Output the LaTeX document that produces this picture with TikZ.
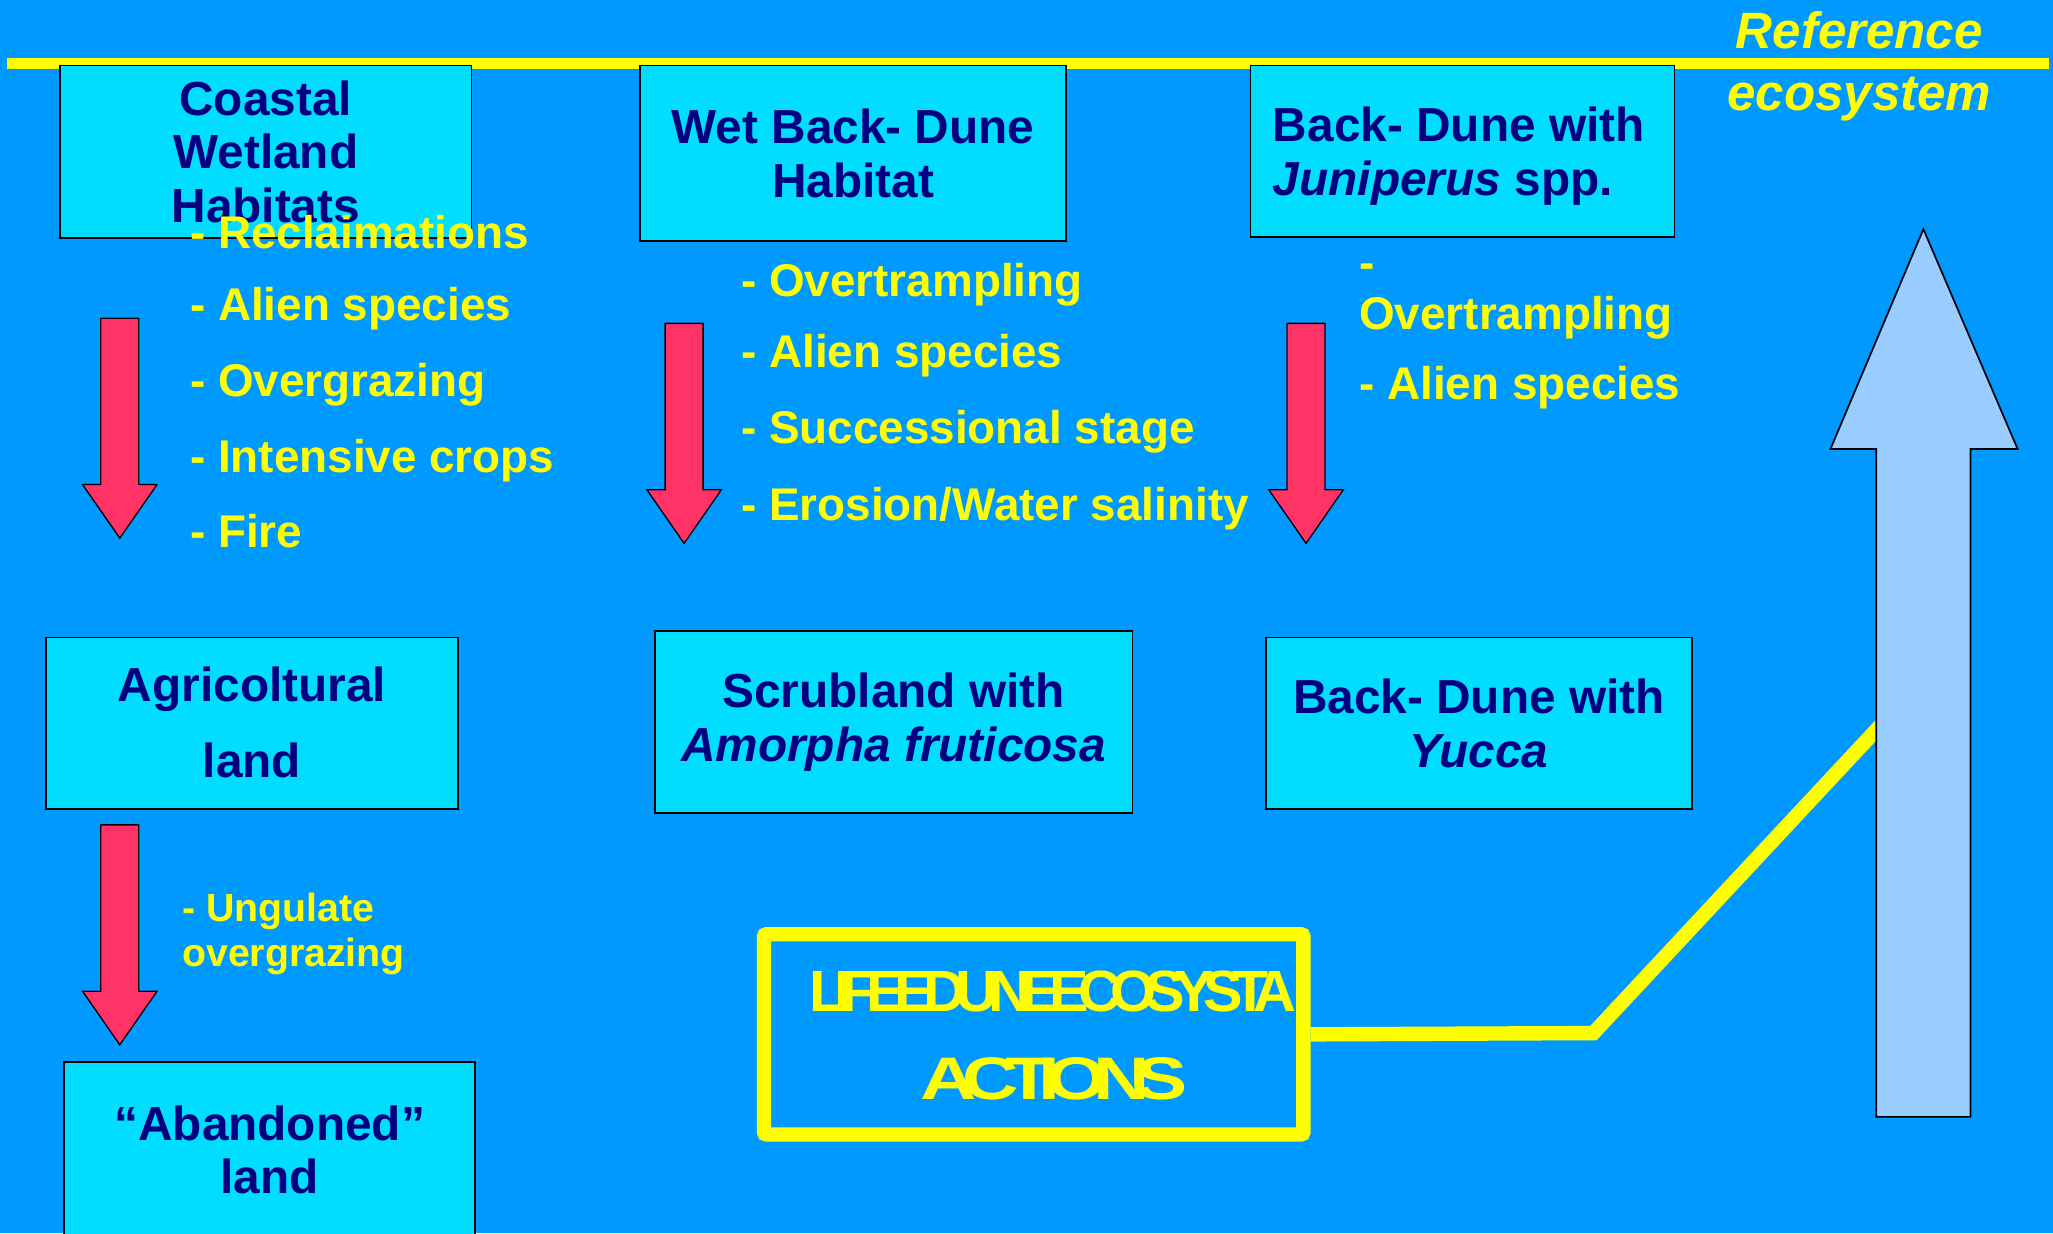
\documentclass[tikz,border=0pt]{standalone}
\usepackage{fontspec}
\setmainfont{Liberation Sans}
\definecolor{bgblue}{RGB}{0,153,255}
\definecolor{boxcyan}{RGB}{0,221,255}
\definecolor{navy}{RGB}{0,0,128}
\definecolor{yel}{RGB}{255,255,0}
\definecolor{redarr}{RGB}{255,51,102}
\definecolor{lightblue}{RGB}{153,204,255}
\begin{document}
\begin{tikzpicture}[x=1pt,y=-1pt,
  box/.style={draw=black, line width=1.3pt, fill=boxcyan, text=navy,
    font=\bfseries\fontsize{36.5}{41}\selectfont, align=center, inner sep=0pt},
  boxtext/.style={text=navy, font=\bfseries\fontsize{36.5}{41}\selectfont, inner sep=0pt},
  threat/.style={text=yel, font=\bfseries\fontsize{35}{40}\selectfont, anchor=base west, inner sep=0pt},
  smallthreat/.style={text=yel, font=\bfseries\fontsize{30}{34}\selectfont, anchor=base west, inner sep=0pt},
  reftext/.style={text=yel, font=\bfseries\itshape\fontsize{39}{47}\selectfont, align=center, inner sep=0pt},
  squish/.style={text=yel, font=\bfseries\fontsize{44}{50}\selectfont\addfontfeatures{LetterSpace=-18}, inner sep=0pt},
  dnarrow/.pic={\draw[fill=redarr, draw=black, line width=1pt]
      (-14.5,0) -- (14.5,0) -- (14.5,127) -- (28.5,127) -- (0,168)
      -- (-28.5,127) -- (-14.5,127) -- cycle;}
]
\useasboundingbox (0,0) rectangle (1568,942);
\clip (0,0) rectangle (1568,942);
\fill[bgblue] (0,0) rectangle (1568,942);

% top yellow line
\coordinate (tl) at (5,48.5);
\coordinate (tr) at (1565,48.5);
\draw[yel, line width=9pt] (tl) -- (tr);

% reference ecosystem label
\node[reftext] (ref) at (1420,50.5) {Reference\\ecosystem};

% top boxes
\node[box, minimum width=314pt, minimum height=132pt] (cw) at (203,116) {Coastal\\Wetland\\Habitats};
\node[box, minimum width=325pt, minimum height=134pt] (wb) at (651.5,117) {Wet Back- Dune\\Habitat};
\node[box, minimum width=324pt, minimum height=131pt] (bj) at (1117,115.5) {};
\node[boxtext, anchor=west, align=left] (bjt) at (972,119) {Back- Dune with\\\textit{Juniperus} spp.};

% middle boxes
\node[box, minimum width=315pt, minimum height=131pt] (ag) at (192.5,552.5) {\raisebox{2pt}{Agricoltural}\\[17pt]\raisebox{2pt}{land}};
\node[box, minimum width=365pt, minimum height=139pt] (sc) at (682.5,551.5) {\raisebox{-3.5pt}{Scrubland with}\\\raisebox{-3.5pt}{\textit{Amorpha fruticosa}}};
\node[box, minimum width=325pt, minimum height=131pt] (by) at (1129.5,552.5) {Back- Dune with\\\textit{Yucca}};

% bottom box
\node[box, minimum width=314pt, minimum height=139pt] (ab) at (206,880.5) {\raisebox{5pt}{“Abandoned”}\\\raisebox{5pt}{land}};

% threats left
\node[threat] (t1) at (145,189.5) {- Reclaimations};
\node[threat] (t2) at (145,244.5) {- Alien species};
\node[threat] (t3) at (145,302.5) {- Overgrazing};
\node[threat] (t4) at (145,360.5) {- Intensive crops};
\node[threat] (t5) at (145,418.5) {- Fire};

% threats middle
\node[threat] (m1) at (566,226.5) {- Overtrampling};
\node[threat] (m2) at (566,280.5) {- Alien species};
\node[threat] (m3) at (566,338.5) {- Successional stage};
\node[threat] (m4) at (566,397.5) {- Erosion/Water salinity};

% threats right
\node[threat] (r0) at (1038,212.5) {-};
\node[threat] (r1) at (1038,251.5) {Overtrampling};
\node[threat] (r2) at (1038,305.5) {- Alien species};

% threats bottom left
\node[smallthreat] (u1) at (139,704) {- Ungulate};
\node[smallthreat] (u2) at (139,738) {overgrazing};

% red arrows
\pic at (91.5,243) {dnarrow};
\pic at (522.5,247) {dnarrow};
\pic at (997.5,247) {dnarrow};
\pic at (91.5,630) {dnarrow};

% LIFE box
\node[draw=yel, line width=11pt, minimum width=412pt, minimum height=153pt,
  rounded corners=2pt, inner sep=0pt] (life) at (789.5,790) {};
\node[squish] (lifet1) at (804,757) {\resizebox{372pt}{31pt}{LIFEEDUNEECOSYSTA}};
\node[squish] (lifet2) at (805,824) {\resizebox{204pt}{32pt}{ACTIONS}};

% yellow connector
\coordinate (bend) at (1217,789);
\coordinate (join) at (1440,550);
\draw[yel, line width=11pt] (life.east) -- (bend) -- (join);

% big reference arrow
\draw[fill=lightblue, draw=black, line width=1.3pt]
  (1433,853) -- (1433,343) -- (1398,343) -- (1469,175) -- (1541,343)
  -- (1505,343) -- (1505,853) -- cycle;
\coordinate (bigtip) at (1469,175);
\end{tikzpicture}
\end{document}
